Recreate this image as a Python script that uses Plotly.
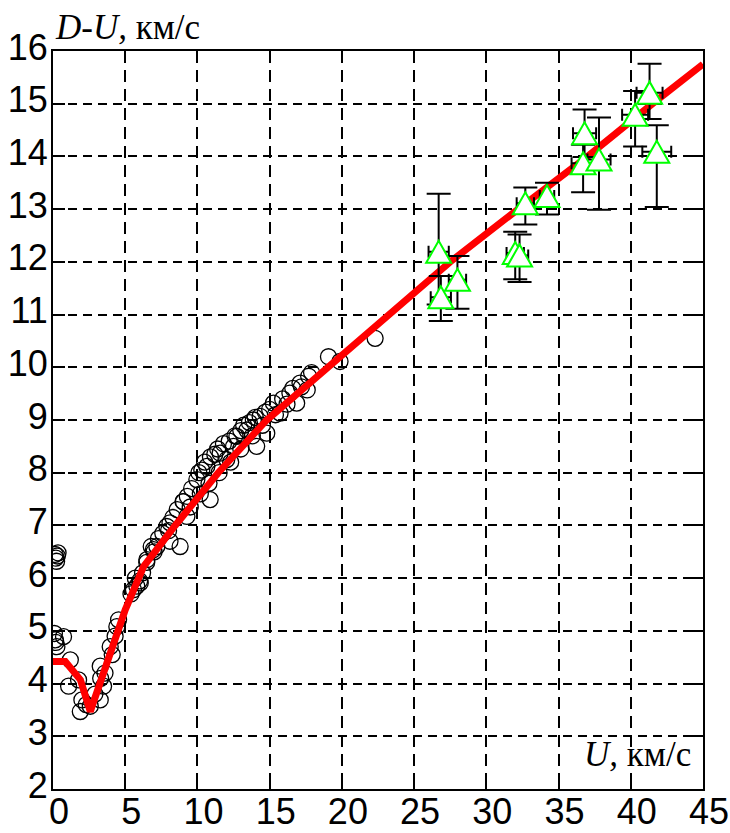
import plotly.graph_objects as go

# Shock Hugoniot data: D-U versus particle velocity U (km/s)

# experimental points (open circles)
circ_u = [0.15, 0.2, 0.3, 0.25, 0.35,
          0.1, 0.16, 0.27, 0.73, 0.2,
          1.2, 1.08, 1.77, 2.0, 1.89, 2.3, 2.58, 2.9, 3.27, 3.5, 3.3, 3.27, 3.6,
          3.96, 4.1, 4.42, 4.54, 4.3,
          5.4, 5.57, 5.8, 6.04, 5.7, 6.2, 6.5, 6.49, 6.95, 6.8, 7.19, 7.3, 7.6,
          7.88, 8.1, 8.3, 8.8, 8.1, 8.6, 9.0, 9.27, 9.03, 9.3, 9.6, 9.96, 10.1,
          10.3, 10.65, 10.88, 10.5, 10.9, 11.2, 11.57, 11.4, 11.8, 12.03, 12.2,
          12.5, 12.6, 12.73, 13.0, 13.2, 13.42, 13.6, 13.87, 14.1, 14.0, 14.34,
          14.5, 14.8, 14.7, 15.26, 15.0, 15.72, 15.9, 16.4, 16.87, 16.6, 17.1,
          17.2, 17.6, 17.7, 17.9, 19.07, 19.87, 22.3,
          6.0, 7.0, 8.0, 9.5, 10.2, 10.8, 11.5, 12.3, 13.0, 13.8, 15.4, 16.2]
circ_v = [6.45, 6.38, 6.42, 6.32, 6.48,
          4.95, 4.83, 4.7, 4.89, 4.78,
          4.45, 3.95, 4.07, 3.69, 3.47, 3.6, 3.57, 3.8, 3.69, 3.95, 4.1, 4.33, 4.2,
          4.7, 4.55, 5.08, 5.21, 4.9,
          5.7, 5.78, 5.85, 5.91, 6.0, 6.1, 6.35, 6.3, 6.54, 6.6, 6.6, 6.75, 6.85,
          6.98, 7.05, 7.15, 6.6, 6.7, 7.3, 7.45, 7.17, 7.45, 7.55, 7.7, 7.87, 8.0,
          8.05, 8.12, 7.49, 8.2, 8.3, 8.35, 8.37, 8.45, 8.55, 8.25, 8.6,
          8.5, 8.7, 8.69, 8.8, 8.9, 8.81, 8.95, 9.0, 8.5, 9.05, 9.07,
          8.9, 8.75, 9.15, 9.32, 9.2, 9.13, 9.4, 9.51, 9.32, 9.6, 9.7,
          9.63, 9.57, 9.83, 9.9, 10.2, 10.11, 10.55,
          5.95, 6.5, 6.9, 7.35, 7.6, 7.8, 8.0, 8.2, 8.45, 8.7, 9.1, 9.3]

# approximation curve
fit_u = [0.0, 0.85, 1.9, 2.58, 5.0, 6.27, 8.46, 11.44, 14.8, 19.0, 23.3,
         27.5, 32.2, 37.0, 41.5, 45.0]
fit_v = [4.42, 4.42, 4.07, 3.47, 5.4, 6.22, 7.0, 8.0, 9.0, 10.0, 11.0,
         12.0, 13.0, 14.0, 15.0, 15.75]

# high-velocity points (triangles) with errors
tri_u = [26.7, 26.85, 28.0, 32.0, 32.3, 32.7, 34.2, 36.8, 36.7, 37.8, 40.3, 41.3, 41.8]
tri_v = [12.19, 11.33, 11.66, 12.17, 12.12, 13.11, 13.25, 14.44, 13.87, 13.94,
         14.79, 15.21, 14.09]
err_up = [1.1, 0.4, 0.45, 0.4, 0.4, 0.3, 0.25, 0.45, 0.35, 0.8, 0.45, 0.55, 0.5]
err_dn = [1.0, 0.45, 0.55, 0.5, 0.5, 0.4, 0.35, 0.45, 0.55, 0.95, 0.6, 0.5, 1.05]
err_u = [0.7, 0.7, 0.6, 0.6, 0.6, 0.6, 0.5, 0.8, 0.8, 0.8, 0.9, 0.9, 1.0]

x_ticks = list(range(0, 46, 5))
y_ticks = list(range(2, 17))

TICK_FONT = dict(family="Liberation Sans, Arial, sans-serif", size=36, color="black")
LABEL_FONT = "Liberation Serif, Times New Roman, serif"

fig = go.Figure()

fig.add_trace(go.Scatter(
    x=circ_u, y=circ_v, mode="markers",
    marker=dict(symbol="circle-open", size=16, color="black", line=dict(width=1.3)),
    showlegend=False, hoverinfo="skip"))

fig.add_trace(go.Scatter(
    x=fit_u, y=fit_v, mode="lines",
    line=dict(color="#ff0000", width=7),
    showlegend=False, hoverinfo="skip"))

fig.add_trace(go.Scatter(
    x=tri_u, y=tri_v, mode="markers",
    marker=dict(size=2, color="rgba(0,0,0,0)"),
    error_y=dict(type="data", symmetric=False, array=err_up, arrayminus=err_dn,
                 color="black", thickness=2, width=12),
    error_x=dict(type="data", array=err_u, color="black", thickness=2, width=6),
    showlegend=False, hoverinfo="skip"))

# triangle symbols anchored at the data points, sized in pixels
for u, v in zip(tri_u, tri_v):
    fig.add_shape(type="path", xref="x", yref="y",
                  xsizemode="pixel", ysizemode="pixel",
                  xanchor=u, yanchor=v,
                  path="M -12.5,-11 L 12.5,-11 L 0,11 Z",
                  fillcolor="white", line=dict(color="#00ff00", width=2),
                  layer="above")

axis_common = dict(
    showgrid=True, gridcolor="black", gridwidth=2,
    showline=True, linecolor="black", linewidth=2, mirror="ticks",
    ticks="inside", ticklen=12, tickwidth=2, tickcolor="black",
    zeroline=False, tickfont=TICK_FONT, automargin=False,
)

fig.update_xaxes(range=[0, 45], tickvals=x_ticks, ticktext=[str(t) for t in x_ticks],
                 griddash="12px,7px", ticklabelshift=6, ticklabelstandoff=-10,
                 **axis_common)
fig.update_yaxes(range=[2, 16], tickvals=y_ticks, ticktext=[str(t) for t in y_ticks],
                 griddash="9px,6px", ticklabelstandoff=-4, ticklabelshift=-4,
                 **axis_common)

fig.add_annotation(xref="paper", yref="paper", x=0, y=1, xanchor="left", yanchor="bottom",
                   yshift=2, showarrow=False,
                   text="<i>D-U,</i> км/с",
                   font=dict(family=LABEL_FONT, size=35, color="black"))
fig.add_annotation(xref="x", yref="y", x=44.3, y=2.25, xanchor="right", yanchor="bottom",
                   showarrow=False,
                   text="<i>U,</i> км/с",
                   font=dict(family=LABEL_FONT, size=35, color="black"))

fig.update_layout(
    width=730, height=833,
    margin=dict(l=53, r=27, t=51, b=44),
    plot_bgcolor="white", paper_bgcolor="white",
)

fig.write_html("out.html")
